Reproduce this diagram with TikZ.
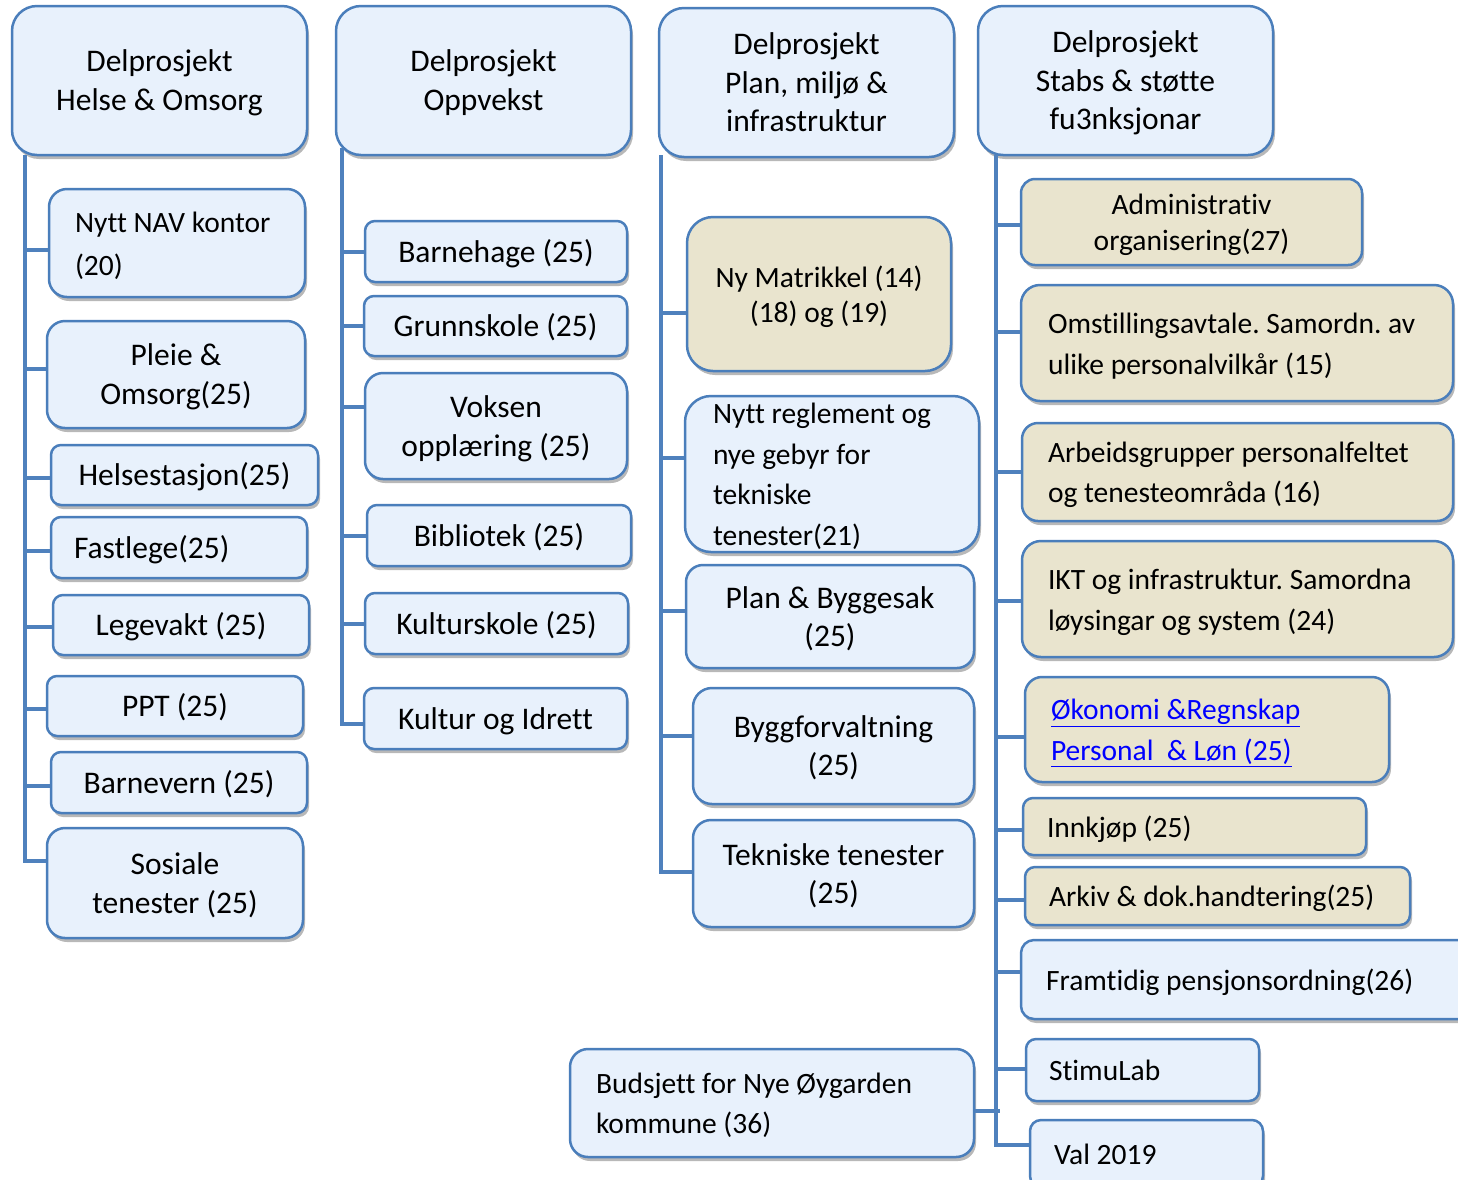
\documentclass[tikz,border=0pt]{standalone}
\usepackage{fontspec}
\setmainfont{Carlito}[Ligatures=NoCommon]
\frenchspacing
\usetikzlibrary{shadows}
\definecolor{linec}{HTML}{4F81BD}
\definecolor{bordc}{HTML}{4A7EBB}
\definecolor{boxb}{HTML}{E8F1FC}
\definecolor{boxt}{HTML}{E9E4CE}
\definecolor{linkc}{HTML}{0000FF}
\newcommand{\fs}[1]{\fontsize{31.5}{#1}\selectfont}
\newcommand{\fss}[1]{\fontsize{29.5}{#1}\selectfont}
\newcommand{\nsp}{\frenchspacing\spaceskip=0pt\xspaceskip=0pt\relax}
\tikzset{
  base/.style={draw=bordc, line width=2.5pt, inner sep=0pt, text=black,
    font=\fs{39}, text height=25pt, text depth=4pt,
    drop shadow={shadow xshift=2pt, shadow yshift=-4pt, opacity=0.28, fill=black}},
  bl/.style={base, fill=boxb},
  tn/.style={base, fill=boxt},
  ctr/.style={align=center},
  lft/.style={align=left},
  td/.style={text depth=#1pt},
  th/.style={text height=#1pt},
  conn/.style={draw=linec, line width=4pt},
}
\begin{document}
\begin{tikzpicture}[x=1pt, y=-1pt]
\clip (0,0) rectangle (1458,1179);
\fill[white] (0,0) rectangle (1458,1179);

% ---------- column 1 ----------
\node[bl, ctr, th=64, rounded corners=25pt, minimum width=295pt, minimum height=149pt] (h1) at (159.5,80.5) {Delprosjekt\\Helse \& Omsorg};
\node[bl, lft, td=47, rounded corners=18pt, text width=204pt, inner xsep=26pt, minimum height=108pt, font=\fss{43}] (nav) at (177,243) {\nsp\mbox{Nytt NAV kontor}\\(20)};
\node[bl, ctr, th=64, rounded corners=18pt, minimum width=258pt, minimum height=107pt] (pleie) at (176,374.5) {Pleie \&\\Omsorg(25)};
\node[bl, ctr, rounded corners=10pt, minimum width=267pt, minimum height=60pt] (helse) at (184.5,475) {Helsestasjon(25)};
\node[bl, lft, rounded corners=10pt, text width=210pt, inner xsep=23pt, minimum height=61pt] (fast) at (179,547.5) {Fastlege(25)};
\node[bl, ctr, rounded corners=10pt, minimum width=256pt, minimum height=60pt] (lege) at (181,625) {Legevakt (25)};
\node[bl, ctr, rounded corners=10pt, minimum width=256pt, minimum height=60pt] (ppt) at (175,706) {PPT (25)};
\node[bl, ctr, rounded corners=10pt, minimum width=256pt, minimum height=61pt] (barnev) at (179,782.5) {Barnevern (25)};
\node[bl, ctr, th=64, rounded corners=18pt, minimum width=256pt, minimum height=110pt] (sos) at (175,883) {Sosiale\\tenester (25)};

% ---------- column 2 ----------
\node[bl, ctr, th=64, rounded corners=25pt, minimum width=295pt, minimum height=149pt] (h2) at (483.5,80.5) {Delprosjekt\\Oppvekst};
\node[bl, ctr, rounded corners=10pt, minimum width=262pt, minimum height=61pt] (bh) at (496,251.5) {Barnehage (25)};
\node[bl, ctr, rounded corners=10pt, minimum width=263pt, minimum height=60pt] (gs) at (495.5,326) {Grunnskole (25)};
\node[bl, ctr, th=64, rounded corners=18pt, minimum width=262pt, minimum height=106pt] (vo) at (496,426) {Voksen\\opplæring (25)};
\node[bl, ctr, rounded corners=10pt, minimum width=264pt, minimum height=61pt] (bib) at (499,535.5) {Bibliotek (25)};
\node[bl, ctr, rounded corners=10pt, minimum width=263pt, minimum height=61pt] (ks) at (496.5,623.5) {Kulturskole (25)};
\node[bl, ctr, rounded corners=10pt, minimum width=263pt, minimum height=61pt] (ki) at (495.5,718.5) {Kultur og Idrett};

% ---------- column 3 ----------
\node[bl, ctr, th=102, rounded corners=25pt, minimum width=295pt, minimum height=149pt, font=\fs{38.5}] (h3) at (806.5,82.5) {Delprosjekt\\Plan, miljø \&\\infrastruktur};
\node[tn, ctr, th=60, rounded corners=26pt, minimum width=264pt, minimum height=154pt, font=\fss{35}] (mat) at (819,294) {Ny Matrikkel (14)\\(18) og (19)};
\node[bl, lft, td=126, rounded corners=26pt, text width=238pt, inner xsep=28pt, minimum height=156pt, font=\fss{40.7}] (reg) at (832,474) {\nsp\mbox{Nytt reglement og}\\\mbox{nye gebyr for}\\tekniske\\tenester(21)};
\node[bl, ctr, th=63, rounded corners=17pt, minimum width=288pt, minimum height=103pt, font=\fs{38}] (pb) at (830,616.5) {Plan \& Byggesak\\(25)};
\node[bl, ctr, th=63, rounded corners=19pt, minimum width=281pt, minimum height=116pt, font=\fs{38}] (bf) at (833.5,746) {Byggforvaltning\\(25)};
\node[bl, ctr, th=63, rounded corners=18pt, minimum width=281pt, minimum height=107pt, font=\fs{38}] (tt) at (833.5,873.5) {Tekniske tenester\\(25)};
\node[bl, lft, td=44, rounded corners=18pt, text width=352pt, inner xsep=26pt, minimum height=108pt, font=\fss{40}] (bud) at (772,1103) {\nsp\mbox{Budsjett for Nye Øygarden}\\\mbox{kommune (36)}};

% ---------- column 4 ----------
\node[bl, ctr, th=102, rounded corners=25pt, minimum width=295pt, minimum height=149pt, font=\fs{38.5}] (h4) at (1125.5,80.5) {Delprosjekt\\Stabs \& støtte\\fu3nksjonar};
\node[tn, ctr, th=61, rounded corners=14pt, minimum width=341pt, minimum height=86pt, font=\fss{36}] (adm) at (1191.5,222) {Administrativ\\organisering(27)};
\node[tn, lft, td=45, rounded corners=19pt, text width=378pt, inner xsep=27pt, minimum height=116pt, font=\fss{41}] (oms) at (1237,343) {\nsp\mbox{Omstillingsavtale. Samordn. av}\\\mbox{ulike personalvilkår (15)}};
\node[tn, lft, td=44, rounded corners=16pt, text width=379pt, inner xsep=26pt, minimum height=98pt, font=\fss{40}] (arb) at (1237.5,472) {\nsp\mbox{Arbeidsgrupper personalfeltet}\\\mbox{og tenesteområda (16)}};
\node[tn, lft, td=45, rounded corners=19pt, text width=379pt, inner xsep=26pt, minimum height=116pt, font=\fss{41}] (ikt) at (1237.5,599) {\nsp\mbox{IKT og infrastruktur. Samordna}\\\mbox{løysingar og system (24)}};
\node[tn, lft, td=45, rounded corners=17pt, text width=312pt, inner xsep=26pt, minimum height=105pt, font=\fss{41}, text=linkc] (oko) at (1207,729.5) {\nsp\underline{\mbox{Økonomi \&Regnskap}}\\\underline{\mbox{Personal\ \ \& Løn (25)}}};
\node[tn, lft, rounded corners=10pt, text width=295pt, inner xsep=24pt, minimum height=57pt, font=\fss{39}] (inn) at (1194.5,826.5) {\nsp Innkjøp (25)};
\node[tn, lft, rounded corners=10pt, text width=337pt, inner xsep=24pt, minimum height=58pt, font=\fss{39}] (ark) at (1217.5,896) {\nsp\mbox{Arkiv \& dok.handtering(25)}};
\node[bl, lft, rounded corners=13pt, text width=409pt, inner xsep=25pt, minimum height=79pt, font=\fss{39}] (fram) at (1250.5,979.5) {\nsp\mbox{Framtidig pensjonsordning(26)}};
\node[bl, lft, rounded corners=10pt, text width=187pt, inner xsep=23pt, minimum height=62pt, font=\fss{39}] (stim) at (1142.5,1070) {StimuLab};
\node[bl, lft, rounded corners=11pt, text width=185pt, inner xsep=24pt, minimum height=67pt, font=\fss{39}] (val) at (1146.5,1153.5) {\nsp Val 2019};

% ---------- connectors ----------
\coordinate (t1a) at (25,155);
\coordinate (t1b) at (25,861);
\draw[conn] (t1a) -- (t1b) -- (t1b -| sos.west);
\foreach \n/\s in {nav/-7, pleie/5.5, helse/-3, fast/-3.5, lege/-2, ppt/-3, barnev/-3}
  \draw[conn] ([yshift=\s pt]\n.west) -- ([yshift=\s pt]\n.west -| t1a);

\coordinate (t2a) at (342,148);
\coordinate (t2b) at (342,724);
\draw[conn] (t2a) -- (t2b) -- (t2b -| ki.west);
\foreach \n/\s in {bh/0, gs/0, vo/19, bib/0, ks/0}
  \draw[conn] ([yshift=\s pt]\n.west) -- ([yshift=\s pt]\n.west -| t2a);

\coordinate (t3a) at (661,155);
\coordinate (t3b) at (661,872);
\draw[conn] (t3a) -- (t3b) -- (t3b -| tt.west);
\foreach \n/\s in {mat/-19, reg/16, pb/5.5, bf/10}
  \draw[conn] ([yshift=\s pt]\n.west) -- ([yshift=\s pt]\n.west -| t3a);

\coordinate (t4a) at (996,155);
\coordinate (t4b) at (996,1145);
\draw[conn] (t4a) -- (t4b) -- (t4b -| val.west);
\foreach \n/\s in {adm/-3, oms/11, arb/0, ikt/-2, oko/-7.5, inn/-3.5, ark/-4, fram/7.5, stim/1}
  \draw[conn] ([yshift=\s pt]\n.west) -- ([yshift=\s pt]\n.west -| t4a);
\draw[conn] ([yshift=-8pt]bud.east) -- ([yshift=-8pt,xshift=4pt]bud.east -| t4a);
\end{tikzpicture}
\end{document}
